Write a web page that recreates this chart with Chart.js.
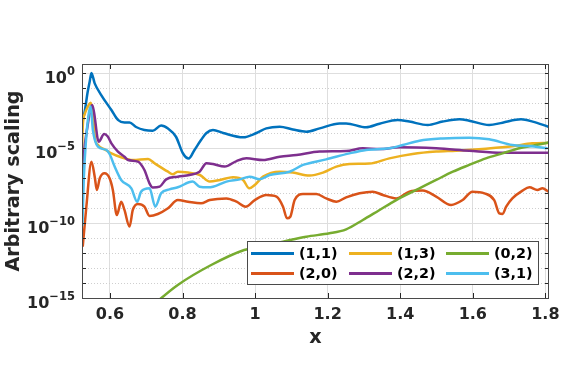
<!DOCTYPE html>
<html>
<head>
<meta charset="utf-8">
<script src="https://cdn.jsdelivr.net/npm/chart.js@4"></script>
<style>
  html, body { margin: 0; padding: 0; background: #fff; }
  #wrap { width: 586px; height: 389px; }
</style>
</head>
<body>
<div id="wrap"><canvas id="plot" width="586" height="389"></canvas></div>
<script>
/* =========================
   Data (second value = log10 of y)
========================= */
const seriesNames = ["(1,1)", "(2,0)", "(1,3)", "(2,2)", "(0,2)", "(3,1)"];
const seriesColors = ["#0072BD", "#D95319", "#EDB120", "#7E2F8E", "#77AC30", "#4DBEEE"];

const s11 = [[0.523,-3.4],[0.531,-2.5],[0.538,-1.35],[0.544,-0.6],[0.549,0],[0.558,-0.69],[0.576,-1.47],
  [0.604,-2.47],[0.622,-3.13],[0.640,-3.3],[0.654,-3.3],[0.672,-3.6],[0.695,-3.8],[0.718,-3.85],[0.741,-3.5],
  [0.760,-3.7],[0.782,-4.25],[0.801,-5.35],[0.817,-5.7],[0.833,-5.13],[0.851,-4.47],[0.866,-4.0],[0.884,-3.8],
  [0.912,-4.0],[0.967,-4.29],[1.004,-4.0],[1.031,-3.69],[1.068,-3.58],[1.104,-3.76],[1.141,-3.91],[1.178,-3.69],
  [1.233,-3.36],[1.251,-3.36],[1.306,-3.62],[1.343,-3.38],[1.393,-3.13],[1.425,-3.24],[1.476,-3.47],[1.517,-3.24],
  [1.563,-3.09],[1.590,-3.18],[1.645,-3.47],[1.682,-3.31],[1.733,-3.09],[1.765,-3.24],[1.808,-3.58]];

const s20 = [[0.525,-11.58],[0.535,-8.91],[0.549,-5.91],[0.558,-6.91],[0.564,-7.8],[0.572,-7.02],[0.585,-6.69],
  [0.599,-7.02],[0.608,-7.8],[0.619,-9.47],[0.631,-8.58],[0.640,-9.13],[0.654,-10.24],[0.663,-9.13],[0.677,-8.73],
  [0.695,-8.91],[0.709,-9.53],[0.732,-9.4],[0.760,-9.02],[0.787,-8.47],[0.815,-8.58],[0.851,-8.69],[0.875,-8.47],
  [0.921,-8.36],[0.949,-8.58],[0.974,-8.91],[0.999,-8.47],[1.031,-8.13],[1.059,-8.24],[1.077,-8.91],[1.088,-9.69],
  [1.097,-9.58],[1.109,-8.47],[1.132,-8.07],[1.169,-8.07],[1.196,-8.36],[1.224,-8.58],[1.251,-8.29],[1.288,-8.02],
  [1.324,-7.91],[1.352,-8.13],[1.389,-8.36],[1.425,-7.91],[1.462,-7.84],[1.499,-8.24],[1.540,-8.8],[1.572,-8.47],
  [1.599,-7.91],[1.632,-8.02],[1.659,-8.47],[1.673,-9.36],[1.682,-9.4],[1.692,-8.91],[1.709,-8.36],[1.737,-7.84],
  [1.756,-7.62],[1.778,-7.8],[1.792,-7.69],[1.808,-7.91]];

const s13 = [[0.523,-5.5],[0.525,-3.6],[0.531,-2.7],[0.540,-2.2],[0.547,-1.98],[0.553,-2.69],[0.558,-4.24],
  [0.567,-4.8],[0.585,-5.09],[0.604,-5.36],[0.631,-5.62],[0.663,-5.8],[0.705,-5.73],[0.723,-6.02],[0.760,-6.58],
  [0.773,-6.75],[0.787,-6.58],[0.815,-6.64],[0.848,-6.8],[0.875,-7.24],[0.903,-7.13],[0.939,-6.95],[0.967,-7.13],
  [0.984,-7.69],[0.999,-7.47],[1.022,-6.91],[1.068,-6.58],[1.104,-6.64],[1.150,-6.84],[1.187,-6.64],[1.224,-6.24],
  [1.260,-6.07],[1.315,-6.04],[1.370,-5.69],[1.434,-5.4],[1.499,-5.24],[1.554,-5.18],[1.636,-5.05],[1.709,-4.89],
  [1.764,-4.69],[1.808,-4.66]];

const s22 = [[0.524,-7.3],[0.528,-5.5],[0.538,-3.58],[0.551,-2.13],[0.556,-2.6],[0.569,-4.58],[0.584,-4.07],
  [0.594,-4.24],[0.604,-4.69],[0.622,-5.24],[0.640,-5.58],[0.650,-5.8],[0.677,-5.91],[0.695,-6.47],[0.709,-7.36],
  [0.718,-7.64],[0.737,-7.58],[0.755,-7.09],[0.787,-6.91],[0.819,-6.8],[0.847,-6.58],[0.866,-6.02],[0.884,-6.07],
  [0.916,-6.24],[0.949,-5.87],[0.976,-5.69],[1.022,-5.8],[1.068,-5.58],[1.114,-5.47],[1.178,-5.24],[1.251,-5.2],
  [1.297,-5.02],[1.343,-5.07],[1.398,-4.95],[1.499,-5.02],[1.590,-5.18],[1.682,-5.31],[1.808,-5.31]];

const s02 = [[0.724,-15.4],[0.741,-15.02],[0.787,-14.13],[0.879,-12.8],[0.970,-11.8],[1.013,-11.58],[1.077,-11.24],
  [1.141,-10.91],[1.205,-10.69],[1.251,-10.42],[1.297,-9.8],[1.343,-9.13],[1.389,-8.47],[1.453,-7.69],[1.499,-7.13],
  [1.545,-6.58],[1.590,-6.13],[1.636,-5.69],[1.682,-5.36],[1.728,-5.02],[1.774,-4.8],[1.808,-4.64]];

const s31 = [[0.524,-10.2],[0.528,-7],[0.534,-4.5],[0.541,-2.8],[0.547,-2.24],[0.553,-3.8],[0.567,-4.91],
  [0.590,-5.13],[0.599,-5.4],[0.613,-6.24],[0.631,-7.13],[0.659,-7.69],[0.675,-8.58],[0.686,-7.91],[0.709,-7.69],
  [0.725,-8.91],[0.741,-8.02],[0.764,-7.76],[0.787,-7.62],[0.828,-7.24],[0.847,-7.58],[0.870,-7.62],[0.884,-7.58],
  [0.921,-7.24],[0.958,-7.09],[0.985,-6.91],[1.013,-7.09],[1.040,-6.8],[1.095,-6.58],[1.132,-6.13],[1.196,-5.76],
  [1.260,-5.36],[1.306,-5.13],[1.370,-5.02],[1.407,-4.8],[1.453,-4.51],[1.517,-4.36],[1.590,-4.31],[1.645,-4.42],
  [1.709,-4.8],[1.755,-4.87],[1.806,-5.02]];

const seriesData = [s11, s20, s13, s22, s02, s31];

const xTicks = [0.6, 0.8, 1, 1.2, 1.4, 1.6, 1.8];
const yTickExps = [0, -5, -10, -15];
const yDecades = [-15, -14, -13, -12, -11, -10, -9, -8, -7, -6, -5, -4, -3, -2, -1, 0];

/* =========================
   Frame, inward ticks, y labels, legend
========================= */
const AXIS = "#262626";
const FONT = "'DejaVu Sans', sans-serif";

const framePlugin = {
  id: "frame",
  afterDatasetsDraw(chart) {
    const { ctx, chartArea: a } = chart;
    const xs = chart.scales.x, ys = chart.scales.y;
    ctx.save();

    // ticks inside the box (matlab style)
    ctx.strokeStyle = AXIS;
    ctx.lineWidth = 1;
    ctx.beginPath();
    xTicks.forEach(v => {
      const px = Math.round(xs.getPixelForValue(v)) + 0.5;
      ctx.moveTo(px, a.bottom); ctx.lineTo(px, a.bottom - 5);
      ctx.moveTo(px, a.top); ctx.lineTo(px, a.top + 5);
    });
    yDecades.forEach(e => {
      const py = Math.round(ys.getPixelForValue(10 ** e)) + 0.5;
      ctx.moveTo(a.left, py); ctx.lineTo(a.left + 4, py);
      ctx.moveTo(a.right, py); ctx.lineTo(a.right - 4, py);
    });
    ctx.stroke();
    ctx.strokeStyle = "#4a4a4a";
    ctx.strokeRect(Math.round(a.left) + 0.5, Math.round(a.top) + 0.5,
      Math.round(a.right - a.left) - 1, Math.round(a.bottom - a.top));

    // y tick labels 10^n
    ctx.fillStyle = AXIS;
    ctx.textAlign = "right";
    ctx.textBaseline = "alphabetic";
    yTickExps.forEach(e => {
      const py = ys.getPixelForValue(10 ** e);
      const expText = e === 0 ? "0" : "\u2212" + Math.abs(e);
      ctx.font = `bold 11.5px ${FONT}`;
      const ew = ctx.measureText(expText).width;
      ctx.fillText(expText, 75, py + 2);
      ctx.font = `bold 16px ${FONT}`;
      ctx.fillText("10", 75 - ew, py + 9.5);
    });

    // legend box
    const box = { x: 247.5, y: 241.5, w: 291, h: 43 };
    ctx.fillStyle = "#fff";
    ctx.fillRect(box.x, box.y, box.w, box.h);
    ctx.strokeStyle = "#4a4a4a";
    ctx.strokeRect(box.x, box.y, box.w, box.h);

    const colX = [251, 349, 446];
    const rowY = [253.5, 273.5];
    ctx.font = `bold 14.4px ${FONT}`;
    ctx.textAlign = "left";
    ctx.textBaseline = "middle";
    seriesNames.forEach((name, i) => {
      const cx = colX[Math.floor(i / 2)];
      const cy = rowY[i % 2];
      ctx.strokeStyle = seriesColors[i];
      ctx.lineWidth = 3;
      ctx.beginPath();
      ctx.moveTo(cx, cy); ctx.lineTo(cx + 43, cy);
      ctx.stroke();
      ctx.fillStyle = "#000";
      ctx.fillText(name, cx + 48, cy + 1);
    });

    ctx.restore();
  }
};

/* =========================
   Chart
========================= */
const isMajor = (c) => c.tick && Math.round(Math.log10(c.tick.value)) % 5 === 0;

new Chart(document.getElementById("plot"), {
  type: "line",
  data: {
    datasets: seriesData.map((pts, i) => ({
      label: seriesNames[i],
      data: pts.map(p => ({ x: p[0], y: 10 ** p[1] })),
      borderColor: seriesColors[i],
      borderWidth: 2.5,
      pointRadius: 0,
      cubicInterpolationMode: "monotone",
      fill: false,
      order: seriesData.length - i,
    })),
  },
  options: {
    responsive: false,
    animation: false,
    devicePixelRatio: 1,
    events: [],
    layout: { padding: { left: 0, right: 37, top: 64, bottom: 0 } },
    plugins: { legend: { display: false }, tooltip: { enabled: false } },
    scales: {
      x: {
        type: "linear",
        min: 0.523,
        max: 1.81,
        afterBuildTicks: (s) => { s.ticks = xTicks.map(v => ({ value: v })); },
        afterFit: (s) => { s.height = 91; },
        grid: { color: "#dedede", drawTicks: false },
        border: { display: false },
        ticks: {
          color: AXIS,
          font: { family: FONT, size: 16, weight: "bold" },
          padding: 7,
          autoSkip: false,
          maxRotation: 0,
          callback: (v) => String(v),
        },
        title: {
          display: true,
          text: "x",
          color: AXIS,
          font: { family: FONT, size: 19.2, weight: "bold" },
          padding: { top: 0, bottom: 39 },
        },
      },
      y: {
        type: "logarithmic",
        min: 1e-15,
        max: 10 ** 0.6,
        afterBuildTicks: (s) => { s.ticks = yDecades.map(e => ({ value: 10 ** e })); },
        afterFit: (s) => { s.width = 82; },
        grid: {
          color: (c) => (isMajor(c) ? "#dedede" : "#cfcfcf"),
          drawTicks: false,
        },
        border: {
          display: false,
          dash: (c) => (c.tick && !isMajor(c) ? [1, 2] : []),
        },
        ticks: { display: false },
        title: {
          display: true,
          text: "Arbitrary scaling",
          color: AXIS,
          font: { family: FONT, size: 19.2, weight: "bold" },
          padding: { top: 2, bottom: 0 },
        },
      },
    },
  },
  plugins: [framePlugin],
});
</script>
</body>
</html>
